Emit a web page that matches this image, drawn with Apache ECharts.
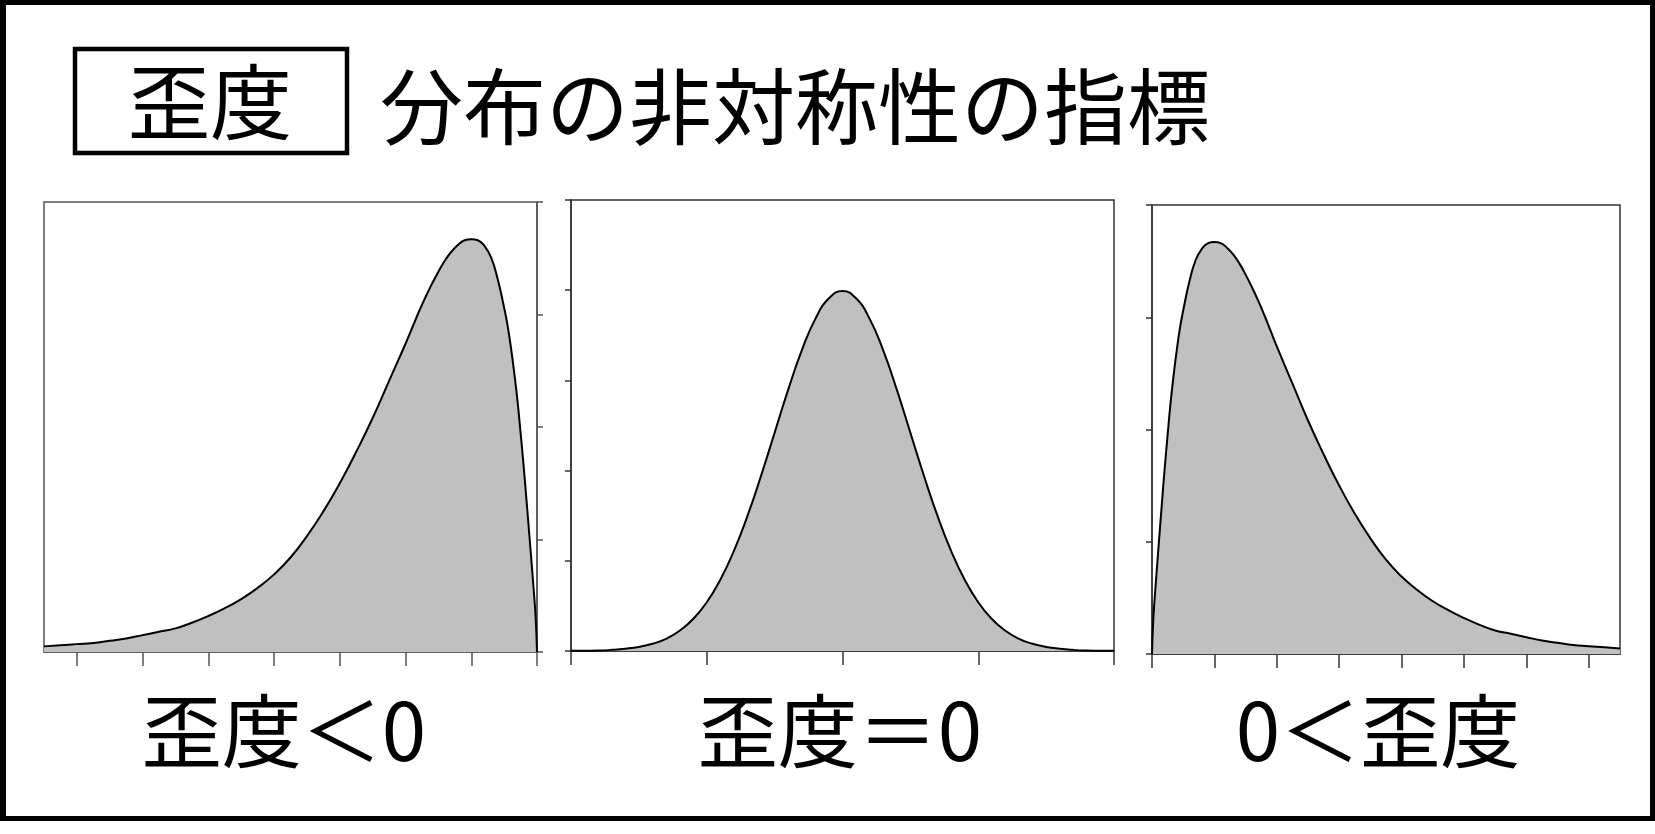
<!DOCTYPE html>
<html>
<head>
<meta charset="utf-8">
<script src="https://cdn.jsdelivr.net/npm/echarts@6/dist/echarts.min.js"></script>
<style>
html,body{margin:0;padding:0;background:#fff;}
#c{width:1655px;height:834px;}
</style>
</head>
<body>
<div id="c"></div>
<script>
// ---- texts ----
const boxTitle = '歪度';
const mainTitle = '分布の非対称性の指標';
const panelLabels = ['歪度＜0', '歪度＝0', '0＜歪度'];

// ---- skewed distribution (right panel; left panel is its mirror image) ----
const skewX = [0, 0.02, 0.05, 0.1, 0.15, 0.2, 0.25, 0.3, 0.35, 0.4,
  0.45, 0.5, 0.6, 0.7, 0.8, 0.9, 1.0, 1.1, 1.2, 1.3,
  1.4, 1.5, 1.6, 1.7, 1.8, 1.9, 2.0, 2.25, 2.5, 2.75,
  3.0, 3.25, 3.5, 3.75, 4.0, 4.25, 4.5, 4.75, 5.0, 5.25,
  5.5, 5.75, 6.0, 6.25, 6.5, 6.75, 7.0, 7.25, 7.5];
const skewY = [0, 0.03, 0.055, 0.092, 0.128, 0.163, 0.195, 0.225, 0.25, 0.272,
  0.291, 0.306, 0.332, 0.351, 0.361, 0.366, 0.367, 0.366, 0.362, 0.356,
  0.348, 0.338, 0.327, 0.315, 0.302, 0.288, 0.274, 0.241, 0.208, 0.178,
  0.15, 0.125, 0.103, 0.084, 0.069, 0.057, 0.047, 0.039, 0.032, 0.026,
  0.021, 0.018, 0.015, 0.012, 0.010, 0.008, 0.007, 0.006, 0.005];
const skewTicks = [0, 1, 2, 3, 4, 5, 6, 7];

// ---- symmetric distribution (middle panel), density x 0.001 ----
const normX = [50, 55, 60, 65, 70, 75, 80, 85, 90, 95, 100, 105, 110, 115, 120, 125, 130, 135, 140, 145, 150,
  155, 160, 165, 170, 175, 180, 185, 190, 195, 200, 205, 210, 215, 220, 225, 230, 235, 240, 245, 250];
const normY = [0.01, 0.01, 0.02, 0.05, 0.10, 0.18, 0.32, 0.54, 0.90, 1.42, 2.16, 3.16, 4.44, 5.99, 7.77, 9.68, 11.59, 13.33, 14.73, 15.64, 15.96,
  15.64, 14.73, 13.33, 11.59, 9.68, 7.77, 5.99, 4.44, 3.16, 2.16, 1.42, 0.90, 0.54, 0.32, 0.18, 0.10, 0.05, 0.02, 0.01, 0.01];
const normTicks = [50, 100, 150, 200, 250];

const skewData = skewX.map((x, i) => [x, skewY[i]]);
const normData = normX.map((x, i) => [x, normY[i]]);

const FONT = '"Noto Sans CJK JP", "Noto Sans CJK SC", sans-serif';

function xAx(grid, min, max, ticks, inverse, color) {
  return {
    type: 'value', gridIndex: grid, min: min, max: max, inverse: inverse,
    axisLine: {show: true, onZero: false, lineStyle: {color: color, width: 1.5}},
    axisTick: {show: true, inside: false, length: 14, customValues: ticks, lineStyle: {color: color, width: 1.5}},
    axisLabel: {show: false},
    splitLine: {show: false}
  };
}
function yAx(grid, min, max, interval, pos, color) {
  return {
    type: 'value', gridIndex: grid, min: min, max: max, interval: interval, position: pos,
    axisLine: {show: true, onZero: false, lineStyle: {color: color, width: 1.5}},
    axisTick: {show: true, inside: false, length: 6, lineStyle: {color: color, width: 1.5}},
    axisLabel: {show: false},
    splitLine: {show: false}
  };
}
function curve(idx, data) {
  return {
    type: 'line', xAxisIndex: idx, yAxisIndex: idx, data: data,
    smooth: true, showSymbol: false, symbol: 'none',
    lineStyle: {color: '#000', width: 2},
    areaStyle: {color: '#c0c0c0', opacity: 1},
    z: 2
  };
}

const chart = echarts.init(document.getElementById('c'), null, {renderer: 'canvas'});
chart.setOption({
  animation: false,
  backgroundColor: '#fff',
  grid: [
    {left: 44, top: 202, width: 493, height: 450, show: true, borderColor: '#555', borderWidth: 1.5, backgroundColor: 'transparent'},
    {left: 571, top: 200, width: 543, height: 451, show: true, borderColor: '#333', borderWidth: 1.5, backgroundColor: 'transparent'},
    {left: 1152, top: 205, width: 468, height: 449, show: true, borderColor: '#333', borderWidth: 1.5, backgroundColor: 'transparent'}
  ],
  xAxis: [
    xAx(0, 0, 7.5, skewTicks, true, '#555'),
    xAx(1, 50, 250, normTicks, false, '#333'),
    xAx(2, 0, 7.5, skewTicks, false, '#333')
  ],
  yAxis: [
    yAx(0, 0, 0.4, 0.1, 'right', '#555'),
    yAx(1, 0, 20, 4, 'left', '#333'),
    yAx(2, 0, 0.4, 0.1, 'left', '#333')
  ],
  series: [curve(0, skewData), curve(1, normData), curve(2, skewData)],
  graphic: [
    // outer frame
    {type: 'rect', shape: {x: 0, y: 0, width: 1655, height: 5}, style: {fill: '#000'}},
    {type: 'rect', shape: {x: 0, y: 0, width: 6, height: 821}, style: {fill: '#000'}},
    {type: 'rect', shape: {x: 1650, y: 0, width: 5, height: 821}, style: {fill: '#000'}},
    {type: 'rect', shape: {x: 0, y: 816, width: 1655, height: 5}, style: {fill: '#000'}},
    // title box
    {type: 'rect', shape: {x: 75, y: 49, width: 272, height: 104}, style: {fill: 'transparent', stroke: '#000', lineWidth: 4.5}},
    {type: 'text', x: 210, y: 102, style: {text: boxTitle, font: '82px ' + FONT, fill: '#000', align: 'center', verticalAlign: 'middle'}},
    {type: 'text', x: 380, y: 106, style: {text: mainTitle, font: '83px ' + FONT, fill: '#000', align: 'left', verticalAlign: 'middle'}},
    // panel labels
    {type: 'text', x: 284, y: 731, style: {text: panelLabels[0], font: '80px ' + FONT, fill: '#000', align: 'center', verticalAlign: 'middle'}},
    {type: 'text', x: 840, y: 731, style: {text: panelLabels[1], font: '80px ' + FONT, fill: '#000', align: 'center', verticalAlign: 'middle'}},
    {type: 'text', x: 1378, y: 731, style: {text: panelLabels[2], font: '80px ' + FONT, fill: '#000', align: 'center', verticalAlign: 'middle'}}
  ]
});
</script>
</body>
</html>
